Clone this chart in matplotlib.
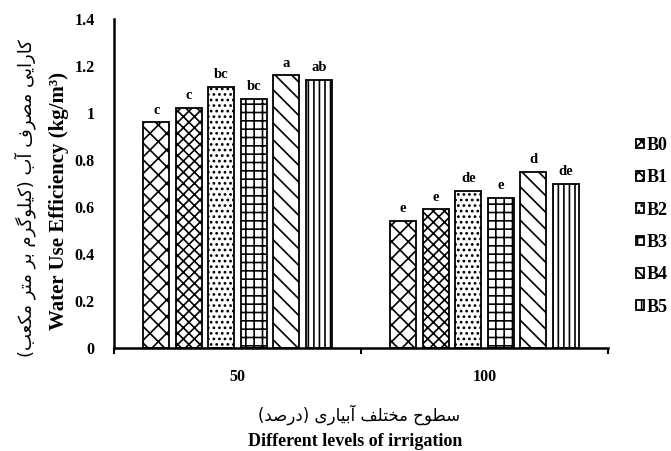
import numpy as np
import matplotlib
matplotlib.use("Agg")
import matplotlib.pyplot as plt

groups = ["50", "100"]
series = ["B0", "B1", "B2", "B3", "B4", "B5"]
wue_50 = [0.96, 1.02, 1.11, 1.06, 1.16, 1.14]
wue_100 = [0.54, 0.59, 0.67, 0.64, 0.75, 0.70]
letters_50 = ["c", "c", "bc", "bc", "a", "ab"]
letters_100 = ["e", "e", "de", "e", "d", "de"]
hatches = ["xx", "xxx", "...", "++", "\\\\", "|||"]

ylabel_fa = "کارایی مصرف آب (کیلوگرم بر متر مکعب)"
ylabel_en = "Water Use Efficiency (kg/m³)"
xlabel_fa = "سطوح مختلف آبیاری (درصد)"
xlabel_en = "Different levels of irrigation"

# presentation forms: isolated, final, initial, medial
FORMS = {
    "ا": ("\uFE8D", "\uFE8E"),
    "آ": ("\uFE81", "\uFE82"),
    "د": ("\uFEA9", "\uFEAA"),
    "ر": ("\uFEAD", "\uFEAE"),
    "و": ("\uFEED", "\uFEEE"),
    "ب": ("\uFE8F", "\uFE90", "\uFE91", "\uFE92"),
    "ت": ("\uFE95", "\uFE96", "\uFE97", "\uFE98"),
    "ح": ("\uFEA1", "\uFEA2", "\uFEA3", "\uFEA4"),
    "خ": ("\uFEA5", "\uFEA6", "\uFEA7", "\uFEA8"),
    "س": ("\uFEB1", "\uFEB2", "\uFEB3", "\uFEB4"),
    "ص": ("\uFEB9", "\uFEBA", "\uFEBB", "\uFEBC"),
    "ط": ("\uFEC1", "\uFEC2", "\uFEC3", "\uFEC4"),
    "ع": ("\uFEC9", "\uFECA", "\uFECB", "\uFECC"),
    "ف": ("\uFED1", "\uFED2", "\uFED3", "\uFED4"),
    "ل": ("\uFEDD", "\uFEDE", "\uFEDF", "\uFEE0"),
    "م": ("\uFEE1", "\uFEE2", "\uFEE3", "\uFEE4"),
    "ک": ("\uFB8E", "\uFB8F", "\uFB90", "\uFB91"),
    "گ": ("\uFB92", "\uFB93", "\uFB94", "\uFB95"),
    "ی": ("\uFBFC", "\uFBFD", "\uFBFE", "\uFBFF"),
}


def shape_fa(text):
    out = []
    for i, ch in enumerate(text):
        if ch not in FORMS:
            out.append(ch)
            continue
        prev = text[i - 1] if i > 0 else ""
        nxt = text[i + 1] if i + 1 < len(text) else ""
        join_prev = prev in FORMS and len(FORMS[prev]) == 4
        join_next = len(FORMS[ch]) == 4 and nxt in FORMS
        f = FORMS[ch]
        if join_prev and join_next:
            out.append(f[3])
        elif join_next:
            out.append(f[2])
        elif join_prev:
            out.append(f[1])
        else:
            out.append(f[0])
    s = "".join(out)[::-1]
    return s.translate(str.maketrans("()", ")("))


plt.rcParams["hatch.linewidth"] = 1.2
serif = "Liberation Serif"

fig = plt.figure(figsize=(6.71, 4.51), dpi=100)
ax = fig.add_axes([0.170, 0.228, 0.736, 0.730])

width = 0.105
step = 0.1316
x = np.arange(len(groups))
values = [wue_50, wue_100]
letters = [letters_50, letters_100]

handles = []
for j, name in enumerate(series):
    vals = [values[g][j] for g in range(len(groups))]
    pos = x + (j - 2.5) * step
    b = ax.bar(pos, vals, width, color="white", edgecolor="black",
               linewidth=1.3, hatch=hatches[j], label=name)
    handles.append(b)
    for g in range(len(groups)):
        ax.text(pos[g], vals[g] + 0.025, letters[g][j], ha="center",
                va="bottom", fontsize=10.5, fontweight="bold", family=serif)

ax.set_xlim(-0.5, 1.5)
ax.set_ylim(0, 1.4)
ax.set_yticks(np.arange(0, 1.41, 0.2))
ax.set_yticklabels(["0", "0.2", "0.4", "0.6", "0.8", "1", "1.2", "1.4"])
ax.set_xticks(x)
ax.set_xticklabels(groups)
ax.set_xticks([-0.5, 0.5, 1.5], minor=True)
ax.tick_params(axis="x", which="major", length=0, pad=15)
ax.tick_params(axis="x", which="minor", length=4, width=1.5, direction="out")
ax.tick_params(axis="y", length=0, pad=14)
for lab in ax.get_xticklabels() + ax.get_yticklabels():
    lab.set_fontfamily(serif)
    lab.set_fontweight("bold")
    lab.set_fontsize(11.5)

for s in ["top", "right"]:
    ax.spines[s].set_visible(False)
for s in ["left", "bottom"]:
    ax.spines[s].set_linewidth(1.8)

fig.text(0.038, 0.56, shape_fa(ylabel_fa), rotation=90, ha="center",
         va="center", fontsize=13, family=["DejaVu Sans"])
fig.text(0.088, 0.555, ylabel_en, rotation=90, ha="center", va="center",
         fontsize=15, fontweight="bold", family=serif)
fig.text(0.535, 0.080, shape_fa(xlabel_fa), ha="center", va="center",
         fontsize=12, family=["DejaVu Sans"])
fig.text(0.530, 0.022, xlabel_en, ha="center", va="center",
         fontsize=13, fontweight="bold", family=serif)

leg = fig.legend(handles=handles, loc="center left",
                 bbox_to_anchor=(0.948, 0.498), frameon=False,
                 prop={"family": serif, "weight": "bold", "size": 13},
                 labelspacing=0.85, handlelength=0.45, handleheight=0.45,
                 handletextpad=0.15, borderaxespad=0, borderpad=0)

fig.savefig("out.png", dpi=100)
